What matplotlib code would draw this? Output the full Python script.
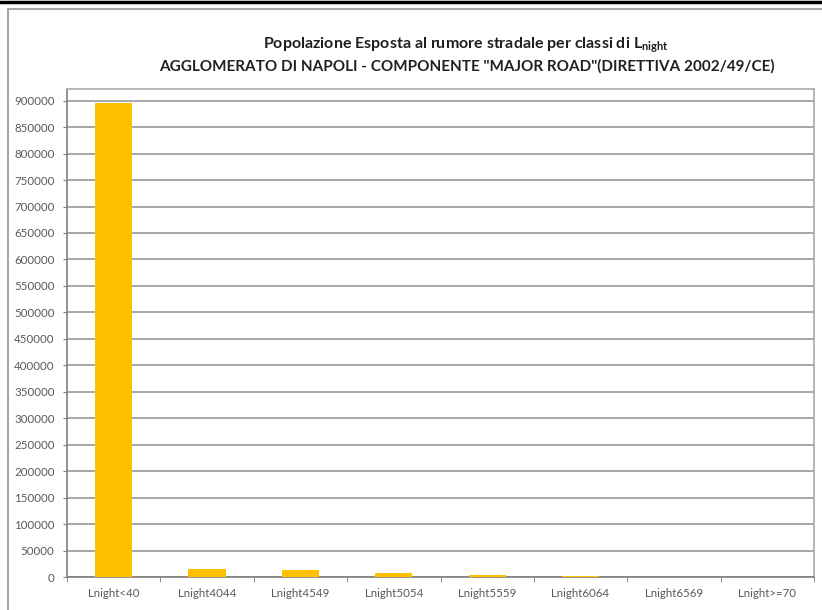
import matplotlib
matplotlib.use("Agg")
import matplotlib.pyplot as plt
from matplotlib.patches import Rectangle
from matplotlib.lines import Line2D
import numpy as np

categories = ["Lnight<40", "Lnight4044", "Lnight4549", "Lnight5054",
              "Lnight5559", "Lnight6064", "Lnight6569", "Lnight>=70"]
values = [896000, 15000, 12500, 7000, 4000, 2500, 300, 0]
yticks = list(range(0, 900001, 50000))

plt.rcParams['font.family'] = ['Lato', 'DejaVu Sans']

fig = plt.figure(figsize=(8.22, 6.10), dpi=100)
W, H = 822, 610

# black top line and grey chart frame
fig.add_artist(Line2D([0, 1], [1 - 1.5 / H, 1 - 1.5 / H], color='black', lw=2.5,
                      transform=fig.transFigure))
fig.add_artist(Rectangle((8 / W, -0.05), 1.1, 1 - 9 / H + 0.05, transform=fig.transFigure,
                         facecolor='white', edgecolor='#a6a6a6', lw=1.5, zorder=-1))

ax = fig.add_axes([67 / W, 1 - 577 / H, (814 - 67) / W, (577 - 89) / H])
x = np.arange(len(categories))
ax.bar(x, values, width=0.4, color='#FFC000', zorder=3)
ax.set_xlim(-0.5, len(categories) - 0.5)
ax.set_ylim(0, 922000)
ax.set_yticks(yticks)
ax.set_yticklabels([str(v) for v in yticks], fontsize=8.3, color='#595959')
ax.yaxis.grid(True, color='#a0a0a0', lw=1.3, zorder=0)
ax.set_xticks(x)
ax.set_xticklabels(categories, fontsize=8.3, color='#595959')
ax.set_xticks(np.arange(-0.5, len(categories), 1), minor=True)
ax.tick_params(axis='x', which='major', length=0, pad=8)
ax.tick_params(axis='x', which='minor', length=3.5, color='#808080', direction='out')
ax.tick_params(axis='y', length=3, color='#808080', direction='out', pad=6)
for s in ['left', 'bottom']:
    ax.spines[s].set_color('#808080')
    ax.spines[s].set_linewidth(1.2)
for s in ['top', 'right']:
    ax.spines[s].set_color('#b0b0b0')
    ax.spines[s].set_linewidth(1.3)

fig.text(466 / W, 1 - 45 / H, "Popolazione Esposta al rumore stradale per classi di L$_{\\mathregular{night}}$",
         ha='center', va='center', fontsize=11.5, fontweight='bold', color='#202020')
fig.text(467 / W, 1 - 66 / H, 'AGGLOMERATO DI NAPOLI - COMPONENTE "MAJOR ROAD"(DIRETTIVA 2002/49/CE)',
         ha='center', va='center', fontsize=11, fontweight='bold', color='#202020')

fig.savefig("out.png", dpi=100)
